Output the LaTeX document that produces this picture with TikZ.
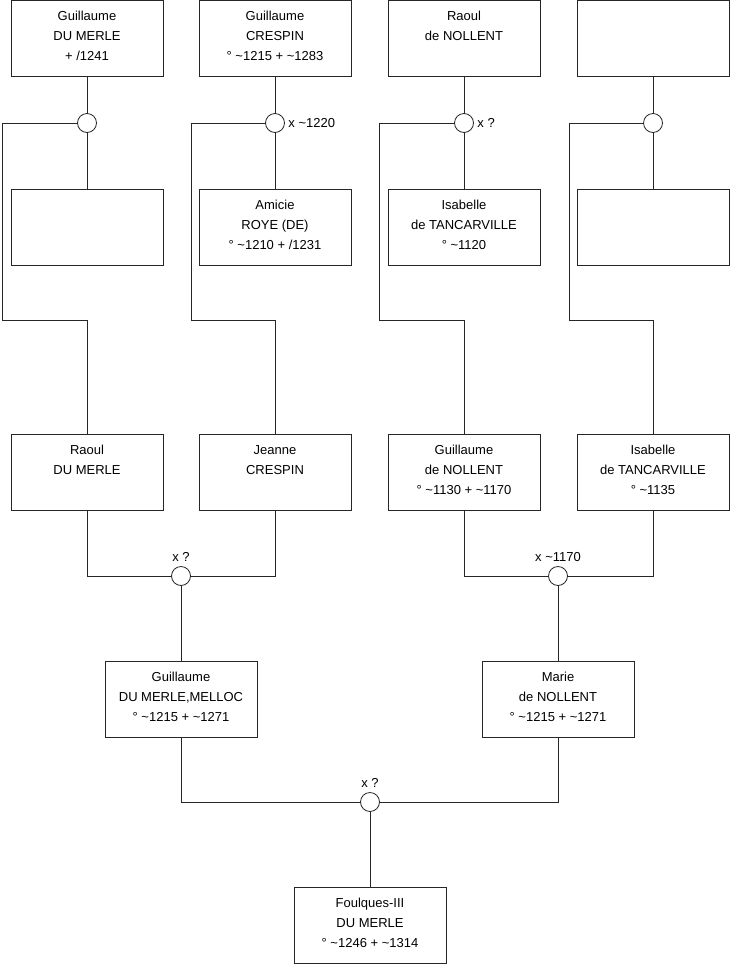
\documentclass[tikz,border=0pt]{standalone}
\usepackage{fontspec}
\newfontfamily\treeFont{Liberation Sans}
\newcommand{\pline}{\rule[-8pt]{0pt}{20pt}}
\newcommand{\tl}{\char`\~}

\begin{document}
\begin{tikzpicture}[x=1pt,y=-1pt,
    person/.style={draw=lineColour, line width=0.8pt, minimum width=152pt, minimum height=76pt,
        inner sep=0pt, align=center, font=\treeFont\fontsize{13pt}{20pt}\selectfont},
    wed/.style={circle, draw=lineColour, line width=0.8pt, fill=white, minimum size=19pt, inner sep=0pt},
    wedlabel/.style={font=\treeFont\fontsize{13pt}{20pt}\selectfont}]
    \definecolor{lineColour}{HTML}{262626}
    \useasboundingbox (0,0) rectangle (740,975);

    % Great-grandparents (top row)
    \node[person] (gDuMerle) at (87,38.5) {Guillaume\pline\\DU MERLE\pline\\+ /1241\pline};
    \node[person] (gCrespin) at (275,38.5) {Guillaume\pline\\CRESPIN\pline\\° \tl1215 + \tl1283\pline};
    \node[person] (rNollent) at (464,38.5) {Raoul\pline\\de NOLLENT\pline\\\pline};
    \node[person] (unknownA) at (653,38.5) {};

    % Their wives (second row)
    \node[person] (unknownB) at (87,227) {};
    \node[person] (aRoye) at (275,227) {Amicie\pline\\ROYE (DE)\pline\\° \tl1210 + /1231\pline};
    \node[person] (iTancA) at (464,227) {Isabelle\pline\\de TANCARVILLE\pline\\° \tl1120\pline};
    \node[person] (unknownC) at (653,227) {};

    % Marriages of the top row
    \node[wed] (m1) at (87,123) {};
    \node[wed, label={[wedlabel]right:x \tl1220}] (m2) at (275,123) {};
    \node[wed, label={[wedlabel]right:x ?}] (m3) at (464,123) {};
    \node[wed] (m4) at (653,123) {};

    % Grandparents (third row)
    \node[person] (rDuMerle) at (87,472) {Raoul\pline\\DU MERLE\pline\\\pline};
    \node[person] (jCrespin) at (275,472) {Jeanne\pline\\CRESPIN\pline\\\pline};
    \node[person] (gNollent) at (464,472) {Guillaume\pline\\de NOLLENT\pline\\° \tl1130 + \tl1170\pline};
    \node[person] (iTancB) at (653,472) {Isabelle\pline\\de TANCARVILLE\pline\\° \tl1135\pline};

    % Marriages of the grandparents
    \node[wed, label={[wedlabel, label distance=1pt]above:x ?}] (m5) at (181,576) {};
    \node[wed, label={[wedlabel, label distance=1pt]above:x \tl1170}] (m6) at (558,576) {};

    % Parents
    \node[person] (gMelloc) at (181,699) {Guillaume\pline\\DU MERLE,MELLOC\pline\\° \tl1215 + \tl1271\pline};
    \node[person] (mNollent) at (558,699) {Marie\pline\\de NOLLENT\pline\\° \tl1215 + \tl1271\pline};
    \node[wed, label={[wedlabel, label distance=1pt]above:x ?}] (m7) at (370,802) {};

    % Root
    \node[person] (fDuMerle) at (370,925) {Foulques-III\pline\\DU MERLE\pline\\° \tl1246 + \tl1314\pline};

    % Bends of the descent lines
    \coordinate (k1) at (2,320);
    \coordinate (k2) at (191,320);
    \coordinate (k3) at (379,320);
    \coordinate (k4) at (569,320);

    % Draw connectors
    \begin{scope}[draw=lineColour, line width=0.8pt]
        \foreach \top/\wed/\wife in {gDuMerle/m1/unknownB, gCrespin/m2/aRoye, rNollent/m3/iTancA, unknownA/m4/unknownC}
            \draw (\top.south) -- (\wed.north) (\wed.south) -- (\wife.north);
        \draw (m1.west) -| (k1) -| (rDuMerle.north);
        \draw (m2.west) -| (k2) -| (jCrespin.north);
        \draw (m3.west) -| (k3) -| (gNollent.north);
        \draw (m4.west) -| (k4) -| (iTancB.north);
        \draw (rDuMerle.south) |- (m5.west) (m5.east) -| (jCrespin.south);
        \draw (gNollent.south) |- (m6.west) (m6.east) -| (iTancB.south);
        \draw (m5.south) -- (gMelloc.north) (m6.south) -- (mNollent.north);
        \draw (gMelloc.south) |- (m7.west) (m7.east) -| (mNollent.south);
        \draw (m7.south) -- (fDuMerle.north);
    \end{scope}

\end{tikzpicture}
\end{document}
